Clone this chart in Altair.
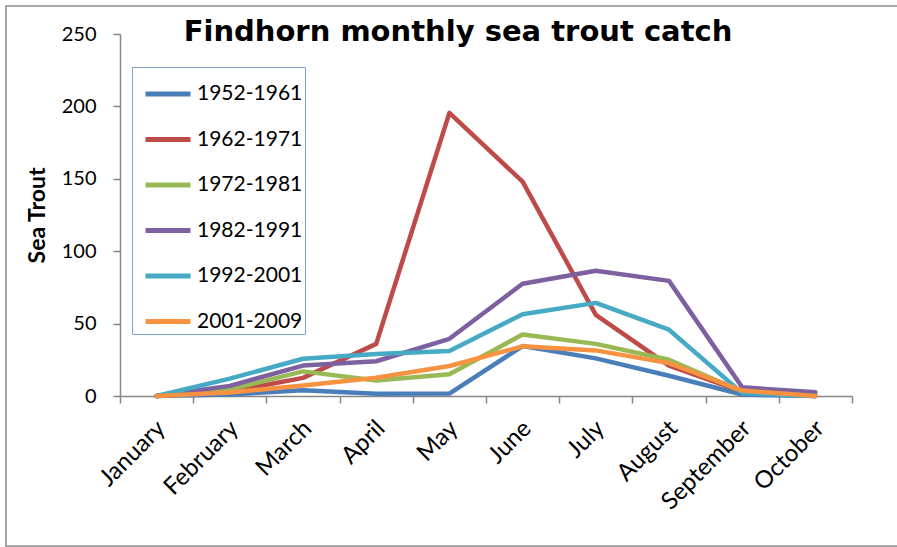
import altair as alt
import pandas as pd

months = ["January", "February", "March", "April", "May", "June",
          "July", "August", "September", "October"]
series_names = ["1952-1961", "1962-1971", "1972-1981", "1982-1991", "1992-2001", "2001-2009"]
s1952 = [0, 1, 4, 1.5, 1.7, 34.5, 26, 14, 1, 0]
s1962 = [0, 3, 12.5, 36, 195.5, 148, 56, 21, 3, 0]
s1972 = [0, 4.5, 17, 10.7, 15, 42.5, 36, 25, 3, 0]
s1982 = [0, 7, 21, 24, 39.5, 77.5, 86.5, 79.5, 6, 2.6]
s1992 = [0, 12, 25.7, 29, 31, 56.5, 64.3, 45.8, 2, 0]
s2001 = [0, 2.4, 7.3, 12.6, 20.7, 34.3, 31.5, 22.7, 3.8, 0]
colors = ["#4A7EBB", "#BE4B48", "#98B954", "#7D60A0", "#46AAC5", "#F69240"]
title_text = "Findhorn monthly sea trout catch"

rows = []
for name, vals in zip(series_names, [s1952, s1962, s1972, s1982, s1992, s2001]):
    for m, v in zip(months, vals):
        rows.append({"Month": m, "Series": name, "Value": v})
df = pd.DataFrame(rows)

FONT = "Lato"
AXIS_GRAY = "#868686"

lines = alt.Chart(df).mark_line(strokeWidth=4.5, strokeJoin="round", strokeCap="round").encode(
    x=alt.X("Month:N", sort=months,
            scale=alt.Scale(paddingInner=0, paddingOuter=0),
            axis=alt.Axis(title=None, labelAngle=-45, labelAlign="right", labelBaseline="top",
                          labelFontSize=24, labelFont=FONT, labelColor="#000",
                          tickBand="extent", tickSize=7, tickColor=AXIS_GRAY,
                          domainColor=AXIS_GRAY, domainWidth=1.5, tickWidth=1.5,
                          labelPadding=13, labelOffset=-4)),
    y=alt.Y("Value:Q", scale=alt.Scale(domain=[0, 250], nice=False),
            axis=alt.Axis(title="Sea Trout", values=[0, 50, 100, 150, 200, 250],
                          grid=False, labelFontSize=20, labelFont=FONT, labelColor="#000",
                          tickSize=7, tickColor=AXIS_GRAY, domainColor=AXIS_GRAY,
                          domainWidth=1.5, tickWidth=1.5, labelPadding=17,
                          titleFont=FONT, titleFontSize=23, titleFontWeight="bold",
                          titleColor="#000", titlePadding=12)),
    color=alt.Color("Series:N", sort=series_names,
                    scale=alt.Scale(domain=series_names, range=colors),
                    legend=alt.Legend(title=None, orient="none", legendX=12, legendY=33,
                                      symbolType="stroke", symbolSize=2025,
                                      symbolStrokeWidth=5, symbolOffset=9,
                                      labelFontSize=21, labelFont=FONT, labelColor="#000",
                                      labelExpr="datum.label + '  '",
                                      labelOffset=4, rowPadding=10.5, padding=2,
                                      strokeColor="#7BA3D4", fillColor="white")),
    order=alt.Order("Series:N"),
)

title = alt.Chart(pd.DataFrame({"t": [title_text]})).mark_text(
    font="DejaVu Sans", fontSize=29, fontWeight="bold", align="center",
    baseline="alphabetic", color="#000"
).encode(x=alt.value(338), y=alt.value(7), text="t:N")

border = alt.Chart(pd.DataFrame({"a": [0]})).mark_rect(
    fillOpacity=0, stroke="#8C8C8C", strokeWidth=1.5
).encode(x=alt.value(-114), x2=alt.value(800), y=alt.value(-28), y2=alt.value(512))

chart = alt.layer(border, lines, title).properties(
    width=732, height=362,
    autosize=alt.AutoSizeParams(type="none"),
    padding={"left": 120, "top": 34, "right": 45, "bottom": 151},
    background="white",
).configure_view(stroke=None)

chart.save("out.html", embed_options={"renderer": "svg", "actions": False})
